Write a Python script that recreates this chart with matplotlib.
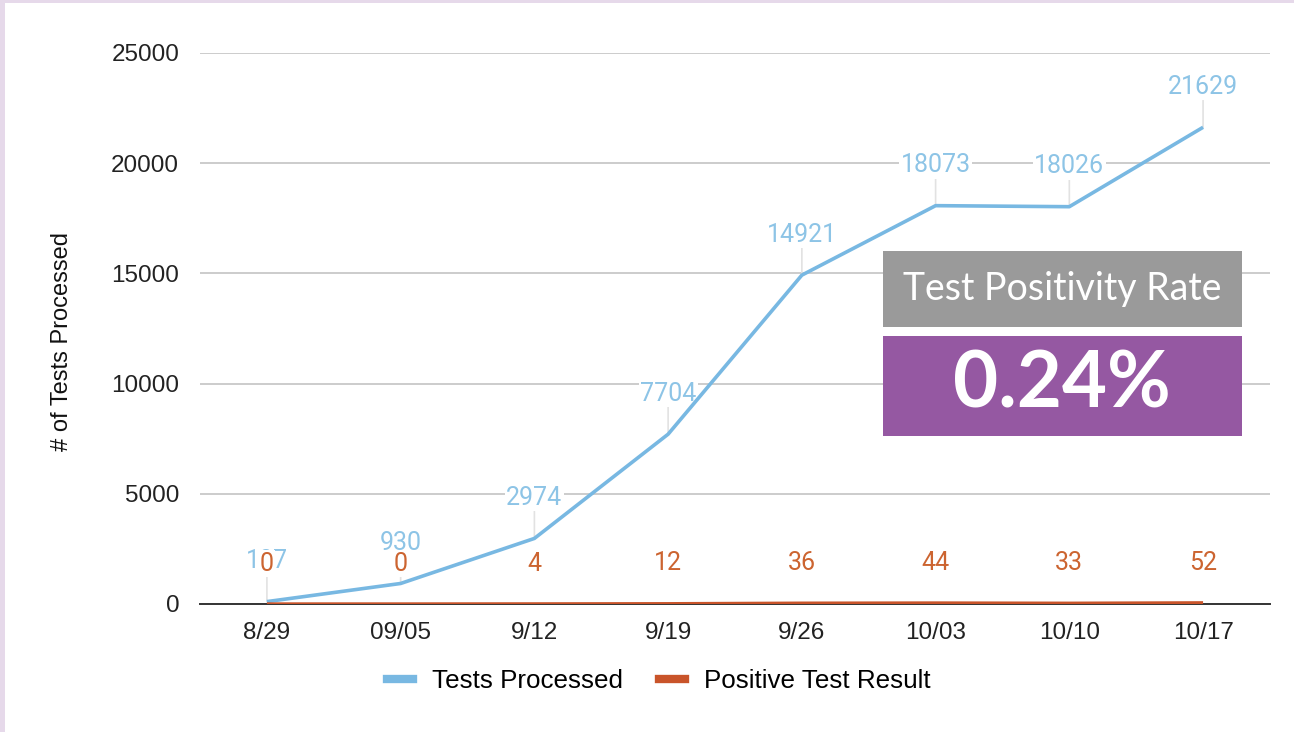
import matplotlib

matplotlib.use("Agg")
import matplotlib.pyplot as plt
from matplotlib.lines import Line2D
from matplotlib.patches import Rectangle

dates = ["8/29", "09/05", "9/12", "9/19", "9/26", "10/03", "10/10", "10/17"]
tests = [107, 930, 2974, 7704, 14921, 18073, 18026, 21629]
positives = [0, 0, 4, 12, 36, 44, 33, 52]
y_ticks = [0, 5000, 10000, 15000, 20000, 25000]
rate_title = "Test Positivity Rate"
rate_value = "0.24%"

blue = "#78b8e2"
blue_lbl = "#8dc4e6"
orange = "#c9542a"
orange_lbl = "#cc6430"

fig = plt.figure(figsize=(12.94, 7.32), dpi=100)
ax = fig.add_axes([0.1546, 0.1749, 0.8268, 0.7527])

x = list(range(len(dates)))
ax.plot(x, tests, color=blue, lw=2.6, zorder=5, solid_capstyle="butt")
ax.plot(x, positives, color=orange, lw=2.4, zorder=6, solid_capstyle="butt")

for xi, v in zip(x, tests):
    ax.annotate(str(v), (xi, v), xytext=(0, 29), textcoords="offset points",
                ha="center", va="center", fontsize=18, family="Roboto", color=blue_lbl,
                bbox=dict(boxstyle="square,pad=0.05", fc="white", ec="none"),
                arrowprops=dict(arrowstyle="-", color="#e2e2e2", lw=1.2, shrinkA=0, shrinkB=0),
                zorder=3)
for xi, v in zip(x, positives):
    ax.annotate(str(v), (xi, v), xytext=(0, 29), textcoords="offset points",
                ha="center", va="center", fontsize=18, family="Roboto", color=orange_lbl,
                bbox=dict(boxstyle="square,pad=0.05", fc="white", ec="none"),
                zorder=4)

ax.set_xlim(-0.5, len(dates) - 0.5)
ax.set_ylim(0, 25000)
ax.set_xticks(x)
ax.set_xticklabels(dates, family="Liberation Sans", fontsize=17.5)
ax.set_yticks(y_ticks)
ax.set_yticklabels([str(t) for t in y_ticks], family="Liberation Sans", fontsize=17.5)
ax.tick_params(length=0, pad=15, colors="#222222")
ax.tick_params(axis="x", pad=13)
ax.grid(axis="y", color="#cccccc", lw=1.4, zorder=0)
for s in ["top", "right", "left"]:
    ax.spines[s].set_visible(False)
ax.spines["bottom"].set_color("#333333")
ax.spines["bottom"].set_linewidth(1.4)
ax.set_ylabel("# of Tests Processed", family="Liberation Sans", fontsize=17, color="#111111")
ax.yaxis.set_label_coords(-0.119, 0.477)

handles = [Line2D([], [], color=blue, lw=6), Line2D([], [], color=orange, lw=6)]
fig.legend(handles, ["Tests Processed", "Positive Test Result"], loc="center",
           bbox_to_anchor=(0.509, 0.0697), ncol=2, frameon=False, handlelength=1.0,
           columnspacing=1.4, handletextpad=0.72,
           prop={"family": "Liberation Sans", "size": 18.7})

# positivity rate boxes
W, H = 1294, 732
fig.patches.append(Rectangle((883 / W, 1 - 327 / H), 359 / W, 76 / H,
                             transform=fig.transFigure, fc="#9a9a9a", ec="none", zorder=10))
fig.patches.append(Rectangle((883 / W, 1 - 436 / H), 359 / W, 100 / H,
                             transform=fig.transFigure, fc="#9558a2", ec="none", zorder=10))
fig.text(1062 / W, 1 - 289 / H, rate_title, ha="center", va="center", color="white",
         fontsize=27, family="Lato", fontweight="normal", zorder=11)
fig.text(1062 / W, 1 - 386 / H, rate_value, ha="center", va="center", color="white",
         fontsize=56, family="Lato", fontweight="bold", zorder=11)

# light purple frame
fig.patches.append(Rectangle((0, 0), 5 / W, 1, transform=fig.transFigure,
                             fc="#e6d9ea", ec="none", zorder=0))
fig.patches.append(Rectangle((0, 1 - 3 / H), 1, 3 / H, transform=fig.transFigure,
                             fc="#e6d9ea", ec="none", zorder=0))

fig.savefig("out.png", dpi=100)
plt.close(fig)
